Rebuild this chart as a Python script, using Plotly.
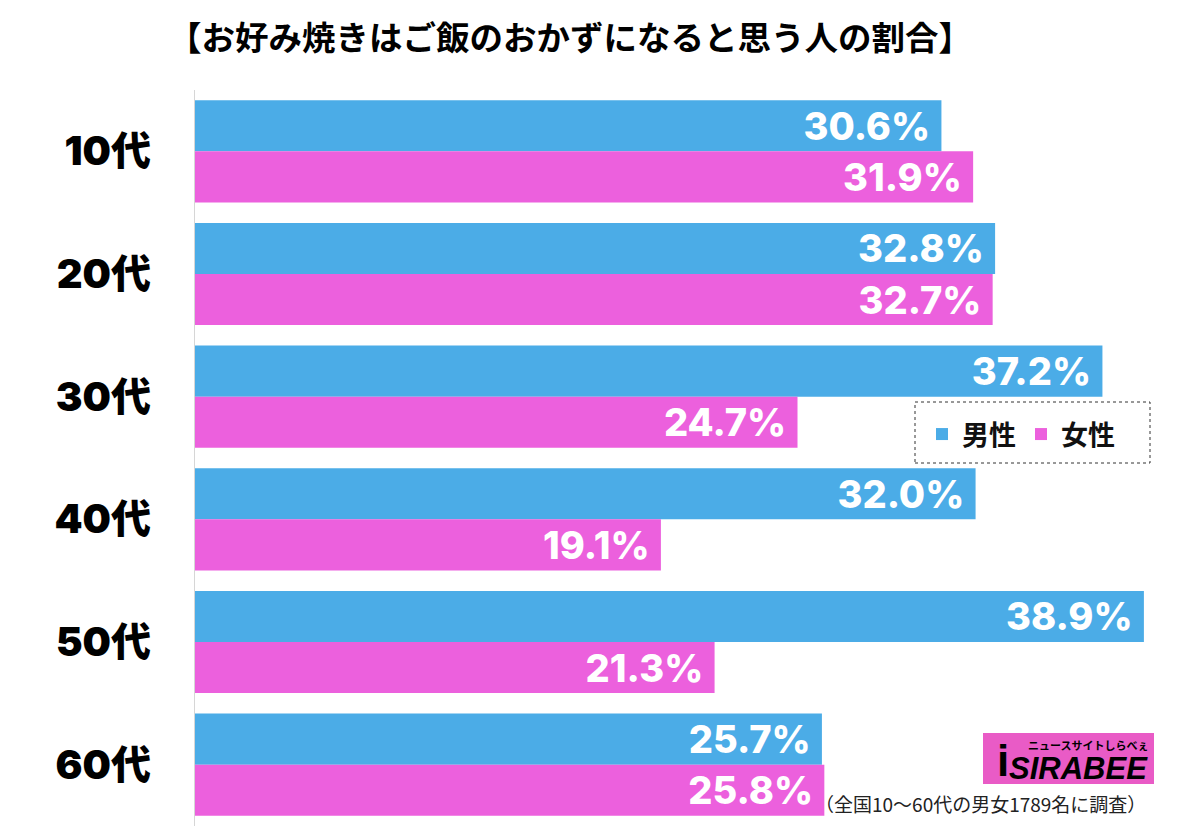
import plotly.graph_objects as go

categories = ["10代", "20代", "30代", "40代", "50代", "60代"]
male = [30.6, 32.8, 37.2, 32.0, 38.9, 25.7]
female = [31.9, 32.7, 24.7, 19.1, 21.3, 25.8]
series_names = ["男性", "女性"]
title_text = "【お好み焼きはご飯のおかずになると思う人の割合】"
note_text = "（全国10〜60代の男女1789名に調査）"

BLUE = "#4BACE7"
PINK = "#EC60DD"
NUM_FONT = "Inter, 'Noto Sans CJK JP', sans-serif"
CJK_FONT = "'Noto Sans CJK JP', sans-serif"

# page body has an 8px margin; compensate
W, H = 1192, 818
L, T = 187, 82
PW, PH = W - L, H - T


def px(x):  # screen x -> paper
    return (x - 8 - L) / PW


def py(y):  # screen y -> paper
    return (H - (y - 8)) / PH


fig = go.Figure()
for name, vals, col in [(series_names[0], male, BLUE), (series_names[1], female, PINK)]:
    fig.add_trace(go.Bar(
        y=categories, x=vals, name=name, orientation="h",
        marker=dict(color=col, line=dict(width=0)),
        text=[f"{v:.1f}% " for v in vals],
        textposition="inside", insidetextanchor="end",
        textfont=dict(color="white", size=38, family=NUM_FONT, weight=800),
        constraintext="none", cliponaxis=False,
    ))

fig.update_layout(
    width=W, height=H,
    margin=dict(l=L, r=0, t=T, b=0),
    paper_bgcolor="white", plot_bgcolor="white",
    barmode="group", bargap=0.167, bargroupgap=0.0,
    showlegend=True,
    legend=dict(
        orientation="h", x=px(922), y=py(410), xanchor="left", yanchor="top",
        font=dict(size=27, family=CJK_FONT, color="#111", weight=700),
        bgcolor="rgba(0,0,0,0)", borderwidth=0,
        itemwidth=30, traceorder="normal",
    ),
    xaxis=dict(range=[0, 41.2], visible=False, fixedrange=True),
    yaxis=dict(
        categoryorder="array", categoryarray=categories, autorange="reversed",
        showline=True, linecolor="#d6d6d6", linewidth=1,
        showgrid=False, zeroline=False, ticks="",
        tickfont=dict(size=40, family=NUM_FONT, color="black", weight=900),
        ticklabelstandoff=35,
    ),
    font=dict(family=CJK_FONT),
)

# title
fig.add_annotation(
    text=title_text, xref="paper", yref="paper",
    x=px(570), y=py(35), xanchor="center", yanchor="middle",
    showarrow=False, font=dict(size=33.5, family=CJK_FONT, color="black", weight=700),
)

# legend dotted frame
fig.add_shape(
    type="rect", xref="paper", yref="paper",
    x0=px(915), x1=px(1150), y0=py(463), y1=py(402),
    line=dict(color="#333", width=1, dash="dot"), fillcolor="rgba(0,0,0,0)", layer="above",
)

# footnote
fig.add_annotation(
    text=note_text, xref="paper", yref="paper",
    x=px(1148), y=py(803), xanchor="right", yanchor="middle",
    showarrow=False, font=dict(size=19, family=CJK_FONT, color="#222"),
)

# SIRABEE logo approximation
fig.add_shape(
    type="rect", xref="paper", yref="paper",
    x0=px(983), x1=px(1154), y0=py(784), y1=py(733),
    line=dict(width=0), fillcolor="#E95BC6", layer="above",
)
fig.add_annotation(
    text="<i>SIRABEE</i>", xref="paper", yref="paper",
    x=px(1150), y=py(768), xanchor="right", yanchor="middle",
    showarrow=False, font=dict(size=31, family="'Liberation Sans', sans-serif", color="black", weight=900),
)
fig.add_annotation(
    text="ニュースサイトしらべぇ", xref="paper", yref="paper",
    x=px(1150), y=py(745), xanchor="right", yanchor="middle",
    showarrow=False, font=dict(size=11, family=CJK_FONT, color="black", weight=700),
)
fig.add_annotation(
    text="<b>i</b>", xref="paper", yref="paper",
    x=px(1003), y=py(760), xanchor="center", yanchor="middle",
    showarrow=False, font=dict(size=44, family="'Liberation Sans', sans-serif", color="black", weight=900),
)

fig.write_html("out.html")
